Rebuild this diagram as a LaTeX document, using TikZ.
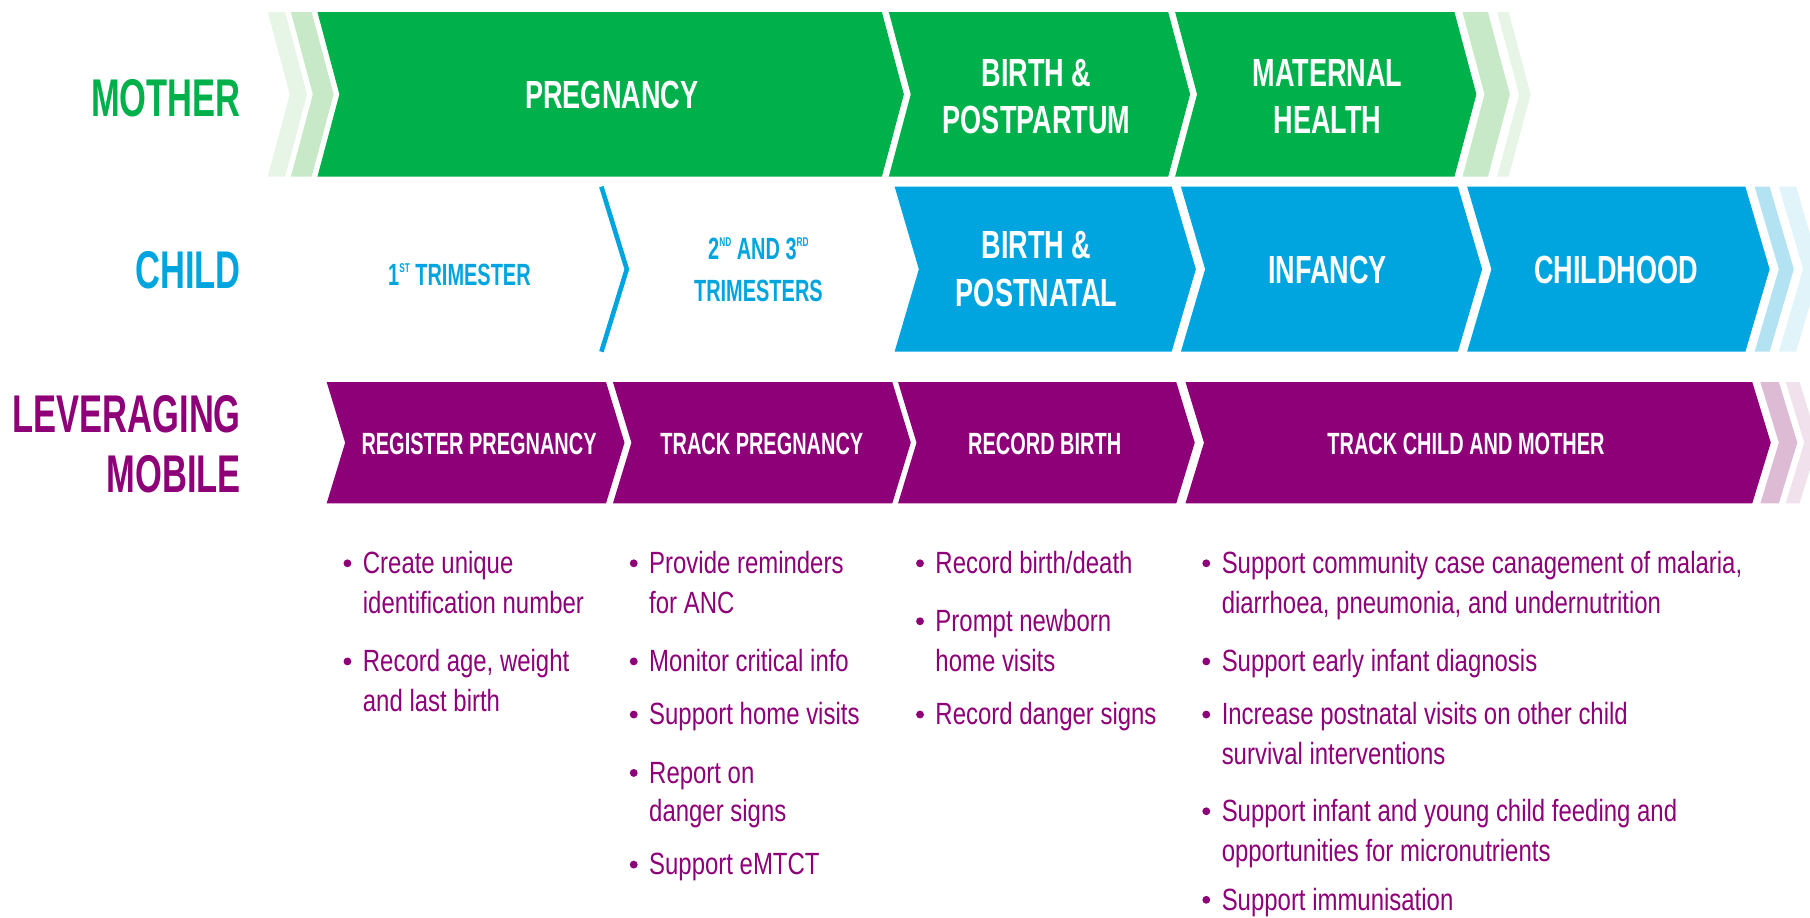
\documentclass[tikz,border=0pt]{standalone}
\usepackage{fontspec}
\setmainfont{Liberation Sans}
\newfontfamily\titlefont{Liberation Sans}[FakeStretch=0.65]
\newfontfamily\labfont{Liberation Sans}[FakeStretch=0.69]
\newfontfamily\bodyfont{Liberation Sans}[FakeStretch=0.78]

\definecolor{mgreen}{RGB}{0,177,75}
\definecolor{mgreenA}{RGB}{200,233,200}
\definecolor{mgreenB}{RGB}{231,245,230}
\definecolor{cblue}{RGB}{0,165,223}
\definecolor{cblueA}{RGB}{179,227,242}
\definecolor{cblueB}{RGB}{225,244,250}
\definecolor{lpurple}{RGB}{142,0,120}
\definecolor{lpurpleA}{RGB}{221,187,213}
\definecolor{lpurpleB}{RGB}{241,225,237}

% chevron band: colour, left x, right x, top y, bottom y, point depth
\newcommand\chevron[6]{%
  \pgfmathsetmacro\chevmid{(#4+#5)/2}%
  \fill[#1] (#2,#4) -- (#3,#4) -- (#3+#6,\chevmid) -- (#3,#5) -- (#2,#5) -- (#2+#6,\chevmid) -- cycle;}

% small raised capitals for ordinals
\newcommand\ordsup[1]{\raisebox{5.6pt}{\fontsize{5.5}{5.5}\selectfont #1}}

% bullet line (name, bullet x, baseline y, text) and continuation line
\newcommand\bitem[4]{%
  \fill[lpurple] (#2,#3-9) circle[radius=1.7pt];
  \node[bodyline] (#1) at (#2+13,#3) {#4};}
\newcommand\bcont[4]{%
  \node[bodyline] (#1) at (#2+13,#3) {#4};}

\begin{document}
\begin{tikzpicture}[x=0.5pt,y=-0.5pt,
  rowtitle/.style={anchor=base east, inner sep=0pt,
    font=\titlefont\bfseries\fontsize{23}{23}\selectfont},
  biglabel/.style={anchor=base, inner sep=0pt, text=white,
    font=\labfont\bfseries\fontsize{17}{17}\selectfont},
  smalllabel/.style={anchor=base, inner sep=0pt, text=white,
    font=\titlefont\bfseries\fontsize{13.3}{13.3}\selectfont},
  bodyline/.style={anchor=base west, inner sep=0pt, text=lpurple,
    font=\bodyfont\fontsize{13.3}{13.3}\selectfont}
]
\useasboundingbox (0,0) rectangle (1568,795);

% ---- mother row ----
\chevron{mgreenB}{232}{247}{10.5}{153}{19}
\chevron{mgreenA}{252}{270}{10.5}{153}{19}
\chevron{mgreen}{275}{764}{10.5}{153}{19}
\chevron{mgreen}{770}{1012}{10.5}{153}{19}
\chevron{mgreen}{1018}{1260}{10.5}{153}{19}
\chevron{mgreenA}{1267}{1289}{10.5}{153}{19}
\chevron{mgreenB}{1297}{1307}{10.5}{153}{19}

% ---- child row ----
\draw[cblue, line width=2pt] (521,161.7) -- (543,233.2) -- (521,304.7);
\chevron{cblue}{775}{1015}{161.7}{304.7}{21}
\chevron{cblue}{1023}{1263}{161.7}{304.7}{21}
\chevron{cblue}{1271}{1512}{161.7}{304.7}{21}
\chevron{cblueA}{1520}{1533}{161.7}{304.7}{21}
\chevron{cblueB}{1541}{1556}{161.7}{304.7}{21}

% ---- mobile row ----
\chevron{lpurple}{283}{525}{331}{436}{16}
\chevron{lpurple}{531}{773}{331}{436}{16}
\chevron{lpurple}{778}{1019}{331}{436}{16}
\chevron{lpurple}{1027}{1518}{331}{436}{16}
\chevron{lpurpleA}{1525}{1541}{331}{436}{16}
\chevron{lpurpleB}{1547}{1559}{331}{436}{16}

% ---- row titles ----
\node[rowtitle, text=mgreen] (tmother) at (209,101) {MOTHER};
\node[rowtitle, text=cblue] (tchild) at (209,250) {CHILD};
\node[rowtitle, text=lpurple] (tlev) at (209,374.5) {LEVERAGING};
\node[rowtitle, text=lpurple] (tmob) at (209,427) {MOBILE};

% ---- stage labels ----
\node[biglabel] (preg) at (530,93.6) {PREGNANCY};
\node[biglabel] (bppA) at (898,75) {BIRTH \&};
\node[biglabel] (bppB) at (898,115.5) {POSTPARTUM};
\node[biglabel] (mhA) at (1150,75) {MATERNAL};
\node[biglabel] (mhB) at (1150,115.5) {HEALTH};

\node[smalllabel, text=cblue] (tri1) at (398,247) {1\ordsup{ST} TRIMESTER};
\node[smalllabel, text=cblue] (tri2A) at (657,225) {2\ordsup{ND} AND 3\ordsup{RD}};
\node[smalllabel, text=cblue] (tri2B) at (657,261) {TRIMESTERS};
\node[biglabel] (bpnA) at (898,224) {BIRTH \&};
\node[biglabel] (bpnB) at (898,265.7) {POSTNATAL};
\node[biglabel] (inf) at (1150,245.4) {INFANCY};
\node[biglabel] (chh) at (1400,245.4) {CHILDHOOD};

\node[smalllabel] (regp) at (415,394) {REGISTER PREGNANCY};
\node[smalllabel] (trkp) at (660,394) {TRACK PREGNANCY};
\node[smalllabel] (recb) at (905,394) {RECORD BIRTH};
\node[smalllabel] (trkc) at (1270,394) {TRACK CHILD AND MOTHER};

% ---- bullet lists ----
\bitem{a1}{301}{497}{Create unique}
\bcont{a1b}{301}{531.3}{identification number}
\bitem{a2}{301}{582}{Record age, weight}
\bcont{a2b}{301}{616.5}{and last birth}

\bitem{b1}{549}{497}{Provide reminders}
\bcont{b1b}{549}{531.3}{for ANC}
\bitem{b2}{549}{582}{Monitor critical info}
\bitem{b3}{549}{628}{Support home visits}
\bitem{b4}{549}{678.6}{Report on}
\bcont{b4b}{549}{711.8}{danger signs}
\bitem{b5}{549}{758}{Support eMTCT}

\bitem{c1}{797}{497}{Record birth/death}
\bitem{c2}{797}{547.2}{Prompt newborn}
\bcont{c2b}{797}{582}{home visits}
\bitem{c3}{797}{628}{Record danger signs}

\bitem{d1}{1045}{497}{Support community case canagement of malaria,}
\bcont{d1b}{1045}{531.3}{diarrhoea, pneumonia, and undernutrition}
\bitem{d2}{1045}{582}{Support early infant diagnosis}
\bitem{d3}{1045}{628}{Increase postnatal visits on other child}
\bcont{d3b}{1045}{662.7}{survival interventions}
\bitem{d4}{1045}{711.8}{Support infant and young child feeding and}
\bcont{d4b}{1045}{746.5}{opportunities for micronutrients}
\bitem{d5}{1045}{788.5}{Support immunisation}
\end{tikzpicture}
\end{document}
